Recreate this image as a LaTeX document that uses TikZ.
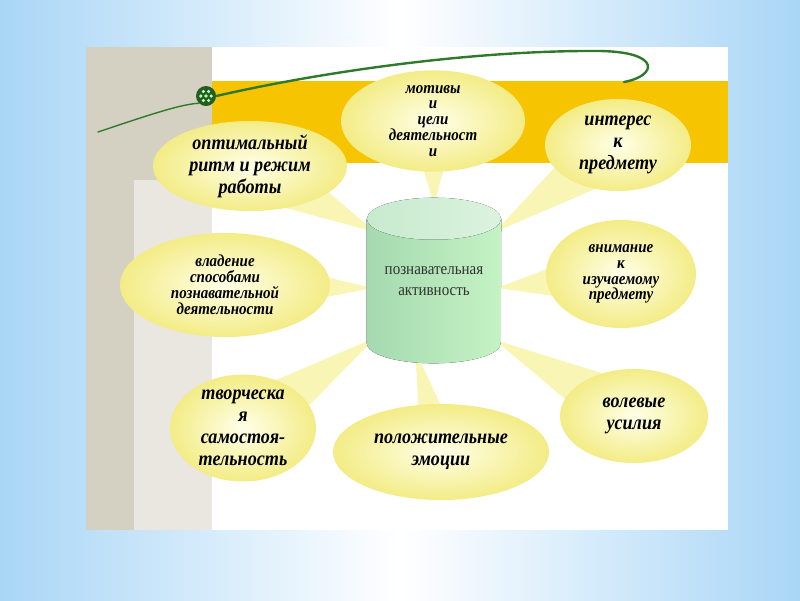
\documentclass[tikz,border=0pt]{standalone}
\usepackage{fontspec}
\setmainfont{Liberation Serif}
\newfontfamily\narrowserif{Liberation Serif}[FakeStretch=0.89]
\usetikzlibrary{shapes.geometric,calc}
\pgfdeclarelayer{back}
\pgfdeclarelayer{tails}
\pgfsetlayers{back,tails,main}

\definecolor{skyblue}{HTML}{A9D6F6}
\definecolor{bandyellow}{HTML}{F6C400}
\definecolor{stripbeige}{HTML}{D5D1C2}
\definecolor{striplight}{HTML}{E9E7E0}
\definecolor{bubbleedge}{HTML}{F3EC86}
\definecolor{bubblecore}{HTML}{FFFFE8}
\definecolor{tailyellow}{HTML}{F9F5B4}
\definecolor{cylleft}{HTML}{A6D9B0}
\definecolor{cylright}{HTML}{C4F3C4}
\definecolor{cyltop}{HTML}{CDEDD2}
\definecolor{stemgreen}{HTML}{2F7A2A}

\tikzset{
  bubble/.style={ellipse,inner sep=0pt,inner color=bubblecore,outer color=bubbleedge,
    align=center,text=black,font=\narrowserif\bfseries\itshape\fontsize{14.5}{15.6}\selectfont},
  bubblesmall/.style={bubble,font=\narrowserif\bfseries\itshape\fontsize{12}{11.3}\selectfont},
  tail/.style={fill=tailyellow}
}
% wedge from a bubble to a point at the cylinder
\newcommand\tailto[3]{\fill[tail] ($(#1)!#3!90:(#2)$) -- (#2) -- ($(#1)!#3!-90:(#2)$) -- cycle;}

\begin{document}
\begin{tikzpicture}[x=0.025cm,y=-0.025cm]
    \useasboundingbox (0,0) rectangle (800,600);
    \begin{pgfonlayer}{back}
        \fill[left color=skyblue,right color=skyblue,middle color=white] (0,0) rectangle (800,600);
        \fill[white] (86,47) rectangle (728,530);
        \fill[stripbeige] (86,47) rectangle (212,530);
        \fill[striplight] (134,180) rectangle (212,530);
        \fill[bandyellow] (212,81) rectangle (728,163);
    \end{pgfonlayer}

    % stem
    \node[circle,fill=stemgreen!75!black,minimum size=0.5cm,inner sep=0pt] (orn) at (206,96) {};
    \foreach \a in {0,60,...,300}
        \fill[green!30!white] ($(orn)+(\a:0.13cm)$) circle (0.045cm);
    \fill[green!30!white] (orn) circle (0.045cm);
    \coordinate (stemL) at (98,132);
    \coordinate (stemR) at (624,82);
    \draw[stemgreen,line width=1pt,line cap=round] (stemL) .. controls (140,118) and (180,104) .. (orn.south west);
    \draw[stemgreen,line width=1.7pt,line cap=round] (orn.east) .. controls (330,70) and (480,50) .. (600,51)
        .. controls (662,52) and (657,76) .. (stemR);

    % cylinder
    \node[minimum width=3.35cm,minimum height=3.1cm,inner sep=0pt] (cyl) at (434,281) {};
    \fill[left color=cylleft,right color=cylright] (cyl.north west) -- (cyl.south west)
        arc[start angle=180,end angle=360,x radius=1.675cm,y radius=0.5cm] -- (cyl.north east) -- cycle;
    \fill[left color=cyltop!85!cylleft,right color=cyltop!70!white] (cyl.north) ellipse[x radius=1.675cm,y radius=0.525cm];
    \node[align=center,text=black!80,font=\narrowserif\fontsize{12}{14.5}\selectfont] (cyltext) at (cyl.center) {познавательная\\активность};

    % bubbles
    \node[bubble,minimum width=4.85cm,minimum height=2.25cm] (opt) at (250,166) {оптимальный\\ритм и режим\\работы};
    \node[bubblesmall,minimum width=4.6cm,minimum height=2.25cm] (mot) at (433,121) {мотивы\\и\\цели\\деятельност\\и};
    \node[bubble,minimum width=3.65cm,minimum height=2.3cm] (int) at (618,145) {интерес\\к\\предмету};
    \node[bubblesmall,minimum width=5.25cm,minimum height=2.6cm] (vlad) at (225,285) {владение\\способами\\познавательной\\деятельности};
    \node[bubblesmall,minimum width=3.75cm,minimum height=2.7cm] (vnim) at (621,274) {внимание\\к\\изучаемому\\предмету};
    \node[bubble,minimum width=3.65cm,minimum height=2.65cm] (tvor) at (243,428) {творческа\\я\\самостоя-\\тельность};
    \node[bubble,minimum width=5.4cm,minimum height=2.4cm] (pol) at (441,452) {положительные\\эмоции};
    \node[bubble,minimum width=3.7cm,minimum height=2.35cm] (vol) at (634,416) {волевые\\усилия};

    % wedges
    \coordinate (t-opt) at (375,232);
    \coordinate (t-mot) at (434,205);
    \coordinate (t-int) at (495,232);
    \coordinate (t-vlad) at (372,288);
    \coordinate (t-vnim) at (497,288);
    \coordinate (t-tvor) at (375,338);
    \coordinate (t-pol) at (415,350);
    \coordinate (t-vol) at (495,340);
    \begin{pgfonlayer}{tails}
        \tailto{opt}{t-opt}{0.8cm}
        \tailto{mot}{t-mot}{0.6cm}
        \tailto{int}{t-int}{0.8cm}
        \tailto{vlad}{t-vlad}{0.8cm}
        \tailto{vnim}{t-vnim}{0.8cm}
        \tailto{tvor}{t-tvor}{0.8cm}
        \tailto{pol}{t-pol}{0.5cm}
        \tailto{vol}{t-vol}{0.8cm}
    \end{pgfonlayer}
\end{tikzpicture}
\end{document}
